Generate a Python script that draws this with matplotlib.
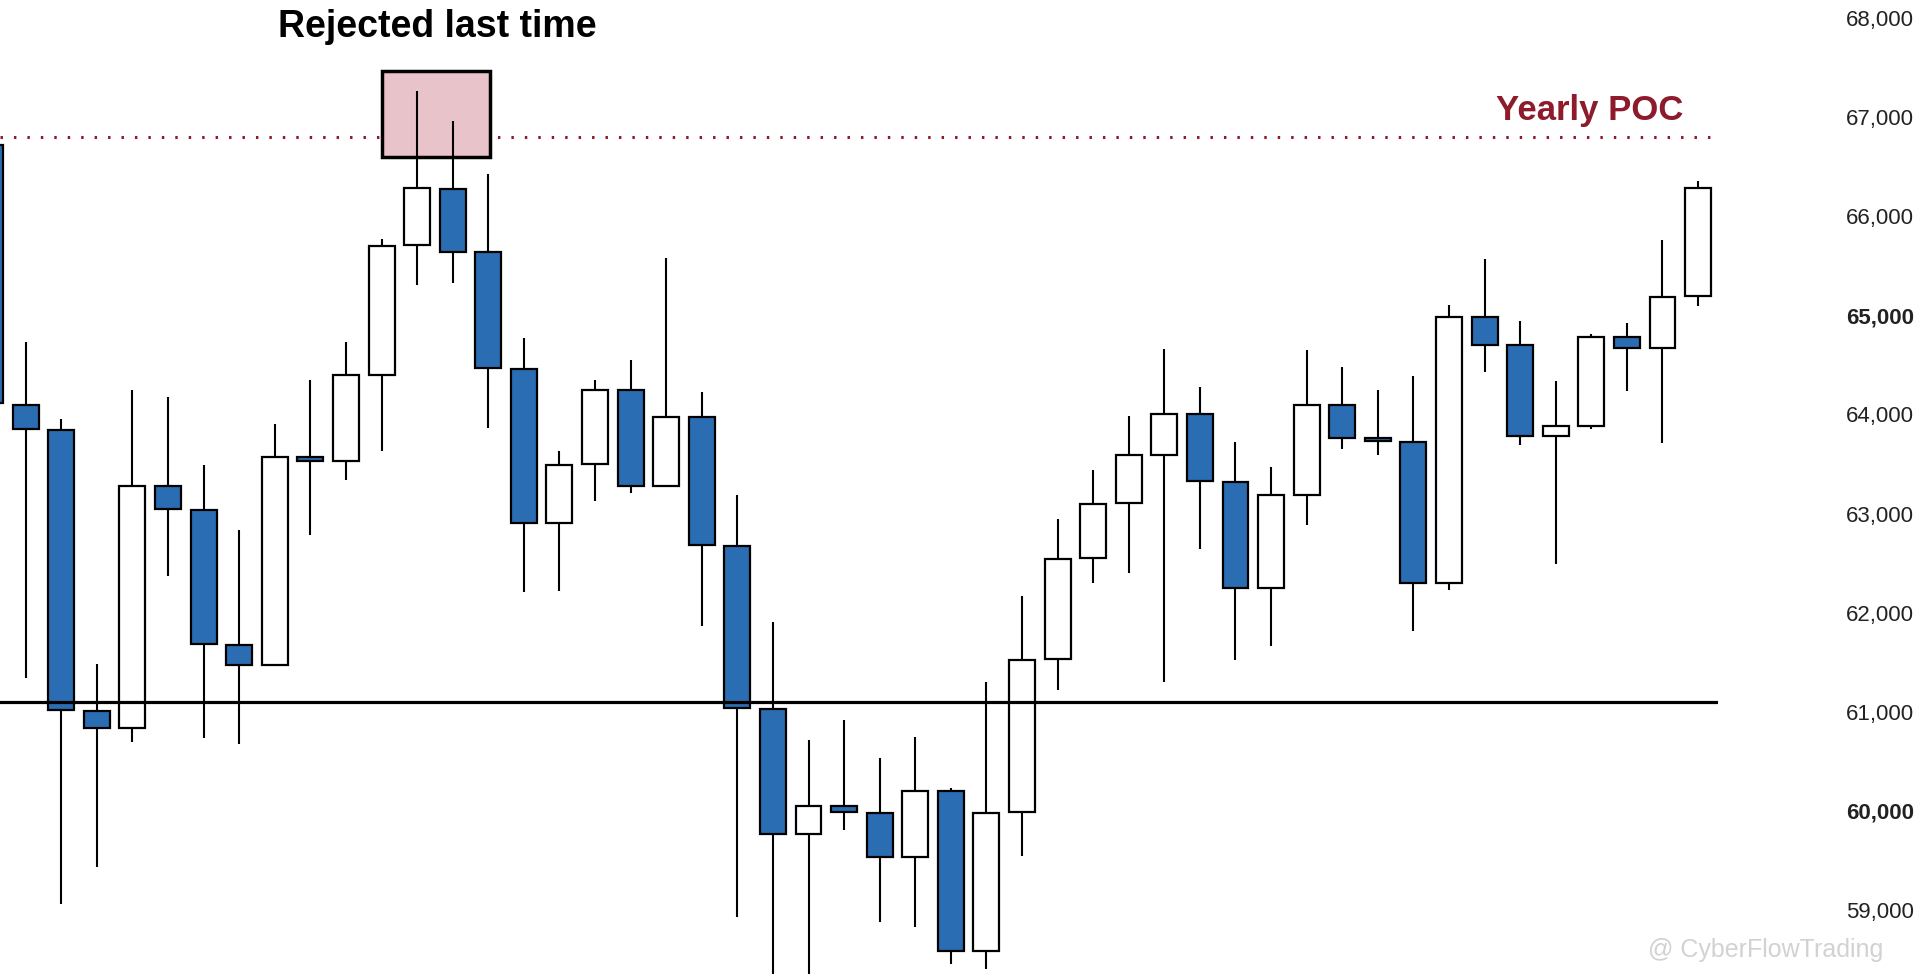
import numpy as np
import matplotlib
matplotlib.use("Agg")
import matplotlib.pyplot as plt
from matplotlib.patches import Rectangle

plt.rcParams["font.family"] = ["Liberation Sans", "DejaVu Sans"]

# daily candles, left to right
opens = [66720, 64100, 63840, 61005, 60835, 63280, 63035, 61670, 61470, 63570,
         63530, 64400, 65705, 66275, 65635, 64455, 62905, 63500, 64245, 63280,
         63970, 62675, 61030, 59770, 60045, 59980, 59535, 60205, 58590, 59985,
         61530, 62550, 63105, 63595, 64000, 63315, 62245, 63185, 64100, 63760,
         63725, 62300, 64985, 64700, 63785, 63885, 64780, 64675, 65195]
highs = [66950, 64735, 63950, 61485, 64245, 64175, 63490, 62830, 63905, 64350,
         64735, 65770, 67265, 66965, 66425, 64770, 63635, 64350, 64545, 65575,
         64230, 63190, 61910, 60720, 60915, 60530, 60745, 60230, 61305, 62165,
         62945, 63435, 63980, 64665, 64275, 63725, 63465, 64655, 64475, 64245,
         64390, 65105, 65565, 64945, 64335, 64810, 64920, 65765, 66360]
lows = [63900, 61340, 59065, 59435, 60690, 62370, 60740, 60675, 61470, 62780,
        63340, 63635, 65305, 65330, 63865, 62210, 62215, 63125, 63210, 63280,
        61865, 58925, 58300, 58300, 59805, 58880, 58830, 58450, 58400, 59540,
        61220, 62295, 62400, 61300, 62640, 61525, 61665, 62885, 63650, 63590,
        61810, 62230, 64430, 63695, 62495, 63850, 64235, 63715, 65095]
closes = [64115, 63850, 61015, 60835, 63280, 63045, 61680, 61470, 63575, 63530,
          64400, 65700, 66280, 65640, 64470, 62905, 63490, 64245, 63280, 63970,
          62685, 61040, 59770, 60045, 59985, 59535, 60205, 58590, 59980, 61525,
          62545, 63095, 63595, 64000, 63325, 62245, 63185, 64100, 63765, 63735,
          62300, 64985, 64700, 63785, 63885, 64780, 64675, 65190, 66290]

support_level = 61100
yearly_poc = 66800
reject_box_x = (11.0, 14.05)
reject_box_y = (66600, 67470)
price_ticks = [59000, 60000, 61000, 62000, 63000, 64000, 65000, 66000, 67000, 68000]
bold_ticks = [60000, 65000]

blue = "#2a6db3"
poc_red = "#8e1b2c"

fig = plt.figure(figsize=(19.17, 9.74), dpi=100)
ax = fig.add_axes([0, 0, 1718 / 1917, 1])

x = np.arange(len(opens))
o = np.array(opens)
c = np.array(closes)
up = c >= o
body_lo = np.minimum(o, c)
body_h = np.abs(c - o)

ax.vlines(x, lows, highs, color="black", lw=1.5, zorder=2)
ax.bar(x, body_h, bottom=body_lo, width=0.73,
       color=np.where(up, "white", blue), edgecolor="black", lw=1.6, zorder=3)

ax.axhline(support_level, color="black", lw=2.3, zorder=4)
ax.axhline(yearly_poc, xmax=0.996, color=poc_red, lw=2.2,
           linestyle=(0, (0.8, 3.6)), zorder=1)

box = Rectangle((reject_box_x[0], reject_box_y[0]),
                reject_box_x[1] - reject_box_x[0], reject_box_y[1] - reject_box_y[0],
                facecolor="#e8c4ca", edgecolor="black", lw=2.5, zorder=1)
ax.add_patch(box)

ax.text(12.56, 67910, "Rejected last time", ha="center", va="center",
        fontsize=27, fontweight="bold", color="black")
ax.text(44.94, 67070, "Yearly POC", ha="center", va="center",
        fontsize=25, fontweight="bold", color=poc_red)

ax.set_xlim(0.278, 48.56)
ax.set_ylim(58354, 68182)
ax.set_xticks([])
ax.yaxis.tick_right()
ax.set_yticks(price_ticks)
ax.set_yticklabels([f"{t:,}" for t in price_ticks])
ax.tick_params(axis="y", length=0, pad=92, labelsize=16, labelcolor="#222222")
for lab, t in zip(ax.get_yticklabels(), price_ticks):
    if t in bold_ticks:
        lab.set_fontweight("bold")
for s in ax.spines.values():
    s.set_visible(False)

fig.text(1648 / 1917, 1 - 950 / 974, "@ CyberFlowTrading", fontsize=18,
         color="#d2d2d2", va="center", ha="left")

fig.savefig("out.png", dpi=100)
